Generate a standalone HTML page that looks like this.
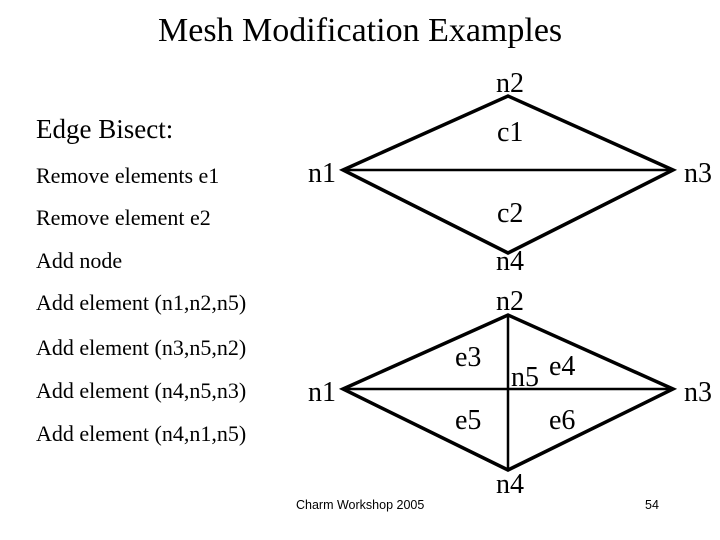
<!DOCTYPE html>
<html><head><style>
body{margin:0;width:720px;height:540px;background:#fff;overflow:hidden;position:relative;font-family:"Liberation Serif",serif;}
.t{position:absolute;white-space:nowrap;color:#000;}
</style></head><body>
<div class="t" style="left:158px;top:12px;font-size:34px;">Mesh Modification Examples</div>
<div class="t" style="left:36px;top:114px;font-size:27px;">Edge Bisect:</div>
<div class="t" style="left:36px;top:163px;font-size:22px;">Remove elements e1</div>
<div class="t" style="left:36px;top:205px;font-size:22px;">Remove element e2</div>
<div class="t" style="left:36px;top:248px;font-size:22px;">Add node</div>
<div class="t" style="left:36px;top:290px;font-size:22px;">Add element (n1,n2,n5)</div>
<div class="t" style="left:36px;top:335px;font-size:22px;">Add element (n3,n5,n2)</div>
<div class="t" style="left:36px;top:378px;font-size:22px;">Add element (n4,n5,n3)</div>
<div class="t" style="left:36px;top:421px;font-size:22px;">Add element (n4,n1,n5)</div>
<div class="t" style="left:296px;top:498px;font-size:12.5px;font-family:'Liberation Sans',sans-serif;">Charm Workshop 2005</div>
<div class="t" style="left:645px;top:498px;font-size:12.5px;font-family:'Liberation Sans',sans-serif;">54</div>
<svg width="720" height="540" style="position:absolute;left:0;top:0">
<g stroke="#000" fill="none" stroke-linejoin="miter">
<polygon points="343,170 508,96 673,170 508,253" stroke-width="3.5"/>
<line x1="343" y1="170" x2="673" y2="170" stroke-width="2.5"/>
<polygon points="343,389 508,315 673,389 508,470" stroke-width="3.5"/>
<line x1="343" y1="389" x2="673" y2="389" stroke-width="2.5"/>
<line x1="508" y1="315" x2="508" y2="470" stroke-width="2.5"/>
</g>
<g font-family="Liberation Serif,serif" font-size="28" fill="#000">
<text x="496" y="92">n2</text>
<text x="497" y="141">c1</text>
<text x="308" y="182">n1</text>
<text x="684" y="182">n3</text>
<text x="497" y="222">c2</text>
<text x="496" y="270">n4</text>
<text x="496" y="310">n2</text>
<text x="455" y="366">e3</text>
<text x="511" y="386">n5</text>
<text x="549" y="375">e4</text>
<text x="308" y="401">n1</text>
<text x="684" y="401">n3</text>
<text x="455" y="429">e5</text>
<text x="549" y="429">e6</text>
<text x="496" y="493">n4</text>
</g>
</svg>
</body></html>
